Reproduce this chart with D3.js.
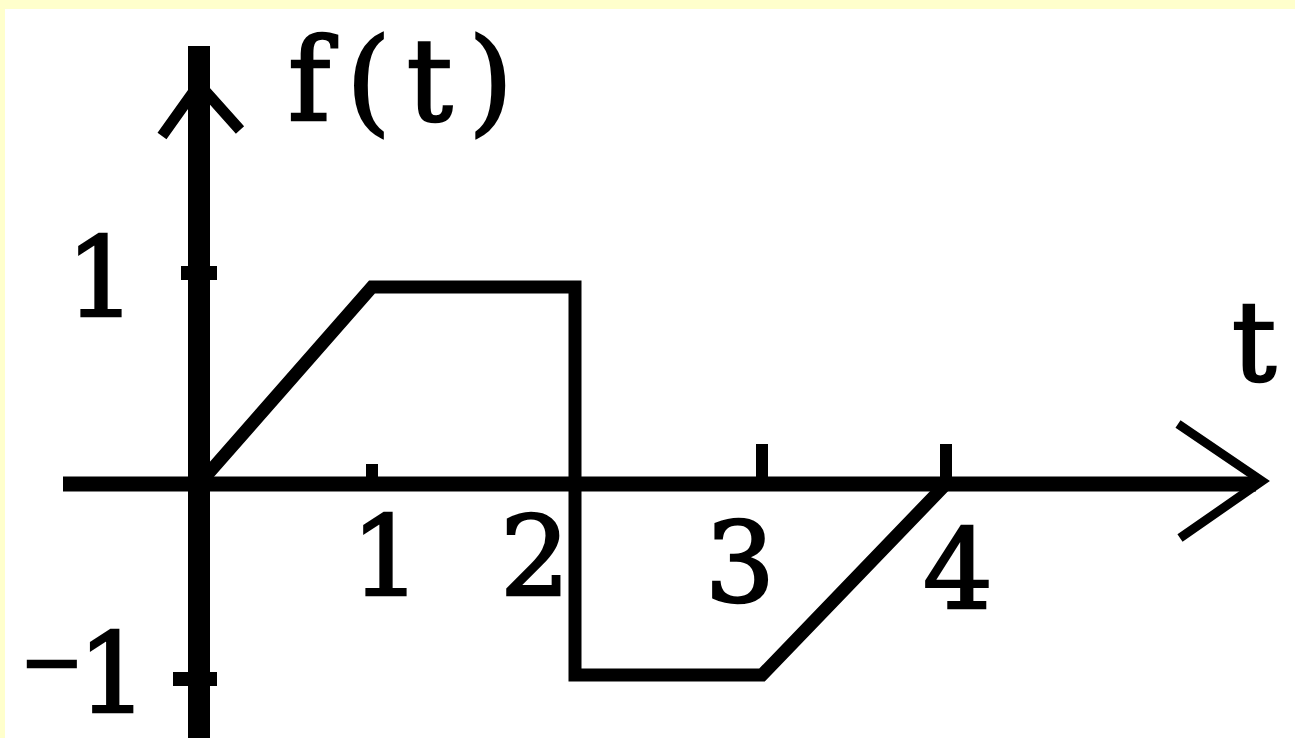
<!DOCTYPE html>
<html>
<head>
<meta charset="utf-8">
<script src="https://cdn.jsdelivr.net/npm/d3@7"></script>
<style>
  html, body { margin: 0; padding: 0; background: #ffffcc; }
  svg { display: block; }
</style>
</head>
<body>
<div id="chart"></div>
<script>
// piecewise signal f(t)
var tValues = [0, 1, 2, 2, 3, 4];
var fValues = [0, 1, 1, -1, -1, 0];
var xTicks = [1, 2, 3, 4];
var xTickLabels = ["1", "2", "3", "4"];
var yTicks = [1, -1];
var yTickLabels = ["1", "1"];   // minus sign of -1 is drawn as its own tspan

var width = 1295, height = 738;

var svg = d3.select("#chart").append("svg")
  .attr("width", width)
  .attr("height", height);

// white plate inside the yellow frame
svg.append("rect")
  .attr("x", 5).attr("y", 9)
  .attr("width", width - 5).attr("height", height - 9)
  .attr("fill", "#ffffff");

// hand drawn figure, so spacing is not perfectly even
var x = d3.scaleLinear()
  .domain([0, 1, 2, 3, 4])
  .range([199, 372, 575, 762, 946]);

var y = d3.scaleLinear()
  .domain([-1, 0, 1])
  .range([675, 484, 287]);

var g = svg.append("g");

// t axis
g.append("line")
  .attr("x1", 63).attr("x2", 1256)
  .attr("y1", y(0)).attr("y2", y(0))
  .attr("stroke", "#000").attr("stroke-width", 15);
g.append("path")
  .attr("d", "M1178,424 L1262,481 L1180,538")
  .attr("fill", "none").attr("stroke", "#000").attr("stroke-width", 9);

// f(t) axis
g.append("line")
  .attr("x1", x(0)).attr("x2", x(0))
  .attr("y1", 46).attr("y2", height)
  .attr("stroke", "#000").attr("stroke-width", 22);
g.append("path")
  .attr("d", "M162,136 L199,84 L240,130")
  .attr("fill", "none").attr("stroke", "#000").attr("stroke-width", 11);

// ticks on t axis
var tickLen = { 1: 20, 2: 6, 3: 40, 4: 40 };
g.selectAll(".xtick").data(xTicks).enter().append("line")
  .attr("class", "xtick")
  .attr("x1", d => x(d)).attr("x2", d => x(d))
  .attr("y1", y(0)).attr("y2", d => y(0) - tickLen[d])
  .attr("stroke", "#000").attr("stroke-width", 12);

// ticks on f axis
g.selectAll(".ytick").data(yTicks).enter().append("line")
  .attr("class", "ytick")
  .attr("x1", d => x(0) - (d > 0 ? 18 : 26)).attr("x2", x(0) + 18)
  .attr("y1", d => y(d) + (d > 0 ? -14 : 4)).attr("y2", d => y(d) + (d > 0 ? -14 : 4))
  .attr("stroke", "#000").attr("stroke-width", 14);

// the signal
var pts = tValues.map((t, i) => [t, fValues[i]]);
var line = d3.line().x(d => x(d[0])).y(d => y(d[1]));
g.append("path")
  .attr("d", line(pts))
  .attr("fill", "none")
  .attr("stroke", "#000")
  .attr("stroke-width", 13)
  .attr("stroke-linejoin", "miter");

// labels
var font = "'DejaVu Serif', serif";
function styleText(sel, size) {
  sel.attr("font-family", font)
    .attr("font-size", size)
    .attr("fill", "#000")
    .attr("stroke", "#000")
    .attr("stroke-width", 2.5);
}

var labelY = { 1: 595, 2: 595, 3: 601, 4: 608 };
var labelDx = { 1: 14, 2: -40, 3: -22, 4: 12 };
g.selectAll(".xlabel").data(xTicks).enter().append("text")
  .attr("class", "xlabel")
  .attr("x", d => x(d) + labelDx[d])
  .attr("y", d => labelY[d])
  .attr("text-anchor", "middle")
  .call(styleText, 110)
  .text((d, i) => xTickLabels[i]);

var ylab = g.selectAll(".ylabel").data(yTicks).enter().append("text")
  .attr("class", "ylabel")
  .attr("x", d => d > 0 ? 136 : 20)
  .attr("y", d => d > 0 ? 316 : 712)
  .attr("text-anchor", d => d > 0 ? "end" : "start")
  .call(styleText, 110);
ylab.filter(d => d < 0).append("tspan")
  .attr("font-size", 76)
  .attr("dy", -24)
  .text("\u2212");
ylab.append("tspan")
  .attr("dy", d => d < 0 ? 24 : 0)
  .attr("dx", d => d < 0 ? -6 : 0)
  .text((d, i) => yTickLabels[i]);

g.append("text")
  .attr("x", 288).attr("y", 120)
  .call(styleText, 114)
  .attr("letter-spacing", 16)
  .text("f(t)");

g.append("text")
  .attr("x", 1254).attr("y", 380)
  .attr("text-anchor", "middle")
  .call(styleText, 110)
  .text("t");
</script>
</body>
</html>
